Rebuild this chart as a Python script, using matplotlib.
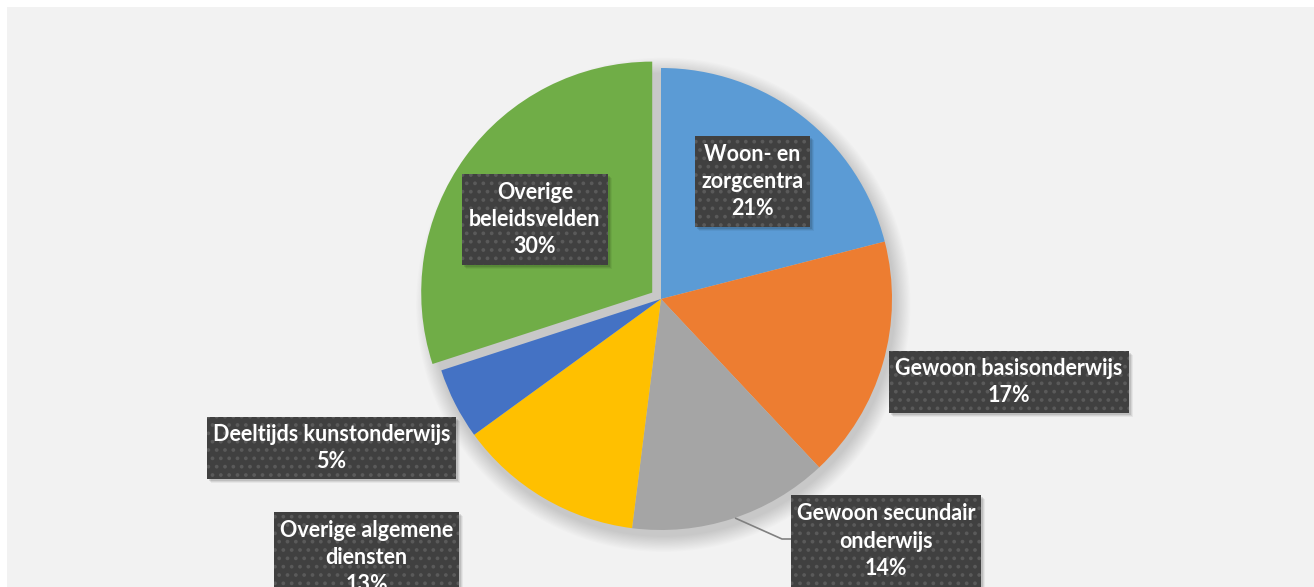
import matplotlib
matplotlib.use("Agg")
import matplotlib.pyplot as plt
from matplotlib.patches import Rectangle, Circle

# ---- data ----
categories = ["Woon- en zorgcentra", "Gewoon basisonderwijs", "Gewoon secundair onderwijs",
              "Overige algemene diensten", "Deeltijds kunstonderwijs", "Overige beleidsvelden"]
label_text = ["Woon- en\nzorgcentra", "Gewoon basisonderwijs", "Gewoon secundair\nonderwijs",
              "Overige algemene\ndiensten", "Deeltijds kunstonderwijs", "Overige\nbeleidsvelden"]
shares = [21, 17, 14, 13, 5, 30]
colors = ["#5B9BD5", "#ED7D31", "#A5A5A5", "#FFC000", "#4472C4", "#70AD47"]
explode = [0, 0, 0, 0, 0, 0.047]

W, H = 1314, 587
CX, CY, R = 661, 299, 231

plt.rcParams["hatch.linewidth"] = 1.5

def px(x, y):
    return (x - CX) / R, (CY - y) / R

fig = plt.figure(figsize=(W / 100, H / 100), dpi=100)
fig.patch.set_facecolor("white")
ax = fig.add_axes([0, 0, 1, 1])

# background panel
x0, y0 = px(7, 7)
x1, y1 = px(W + 5, H + 5)
ax.add_patch(Rectangle((x0, y1), x1 - x0, y0 - y1, fc="#F2F2F2", ec="none", zorder=0))

# soft pie shadow
for i in range(14):
    rr = 1.0 + 0.005 * (14 - i)
    ax.add_patch(Circle((0.01, -0.025), rr, fc="#000000", alpha=0.013, ec="none", zorder=1))

wedges, _ = ax.pie(shares, colors=colors, startangle=90, counterclock=False,
                   explode=explode, radius=1.0, center=(0, 0),
                   wedgeprops=dict(linewidth=0, zorder=2), frame=True)
ax.set_xlim(-CX / R, (W - CX) / R)
ax.set_ylim((CY - H) / R, CY / R)
ax.set_aspect("equal")
ax.axis("off")

# leader line for gray slice
lx = [735, 782, 791]
ly = [518, 539, 539]
ax.plot([px(a, b)[0] for a, b in zip(lx, ly)], [px(a, b)[1] for a, b in zip(lx, ly)],
        color="#808080", lw=1.2, zorder=3, solid_capstyle="butt")

# label boxes (left, top, right, bottom in px)
boxes = [(695, 136, 810, 227), (889, 351, 1129, 413), (791, 495, 981, 587),
         (274, 512, 459, 603), (207, 417, 456, 479), (462, 174, 608, 265)]

for txt, v, (l, t, r, b) in zip(label_text, shares, boxes):
    bl = px(l, b)
    tr = px(r, t)
    w = tr[0] - bl[0]
    h = tr[1] - bl[1]
    # shadow
    for k, a in enumerate([0.10, 0.07, 0.05]):
        off = (2 + k) / R
        ax.add_patch(Rectangle((bl[0] + off, bl[1] - off), w, h, fc="black", alpha=a,
                               ec="none", zorder=4))
    ax.add_patch(Rectangle(bl, w, h, fc="#404040", ec="#5A5A5A", lw=0, hatch="..",
                           zorder=5))
    ax.text((bl[0] + tr[0]) / 2, (bl[1] + tr[1]) / 2, f"{txt}\n{v}%",
            ha="center", va="center", color="white", fontsize=15.5, fontweight="bold",
            family="Lato", linespacing=1.38, zorder=6)

fig.savefig("out.png", dpi=100, facecolor="white")
